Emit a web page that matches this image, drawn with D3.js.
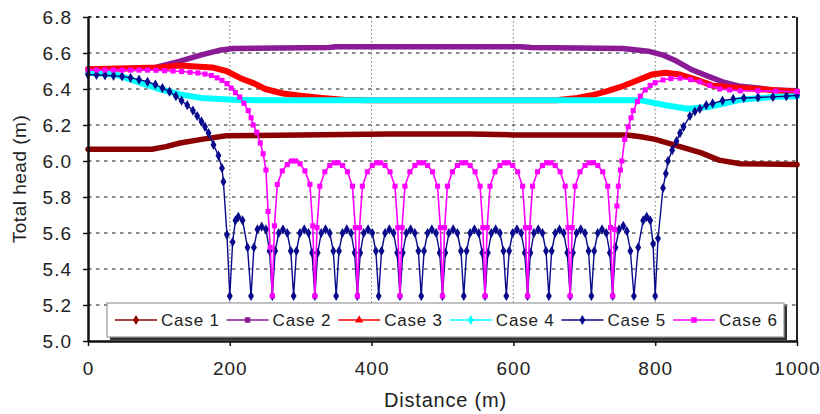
<!DOCTYPE html>
<html>
<head>
<meta charset="utf-8">
<script src="https://cdn.jsdelivr.net/npm/d3@7"></script>
<style>
  html, body { margin: 0; padding: 0; background: #fff; }
  svg text { font-family: "Liberation Sans", Arial, sans-serif; fill: #222; }
</style>
</head>
<body>
<div id="chart"></div>
<script>
// values: [distance (m), total head (m)]
const seriesNames = ["Case 1", "Case 2", "Case 3", "Case 4", "Case 5", "Case 6"];
const xTicks = [0, 200, 400, 600, 800, 1000];
const yTicks = [5.0, 5.2, 5.4, 5.6, 5.8, 6.0, 6.2, 6.4, 6.6, 6.8];

const case1 = [[0,6.065],[90,6.065],[110,6.08],[130,6.10],[160,6.12],[195,6.14],[300,6.145],[425,6.15],
  [540,6.15],[600,6.145],[760,6.145],[780,6.135],[800,6.12],[835,6.08],[865,6.045],[890,6.005],[920,5.985],[1000,5.98]];

const case2 = [[0,6.51],[90,6.515],[105,6.53],[130,6.555],[160,6.59],[185,6.615],[205,6.625],[340,6.63],[350,6.635],
  [610,6.635],[625,6.63],[755,6.625],[790,6.61],[810,6.59],[830,6.555],[850,6.51],[875,6.47],[895,6.44],[920,6.415],
  [945,6.405],[965,6.395],[1000,6.39]];

const case3 = [[0,6.51],[100,6.52],[130,6.53],[175,6.52],[195,6.50],[215,6.46],[235,6.43],[250,6.40],[275,6.375],
  [300,6.362],[330,6.35],[360,6.34],[400,6.337],[600,6.337],[660,6.338],[690,6.35],[710,6.365],[730,6.385],[750,6.41],
  [770,6.44],[795,6.48],[815,6.49],[835,6.48],[860,6.45],[880,6.42],[905,6.41],[945,6.40],[1000,6.385]];

const case4 = [[0,6.49],[40,6.48],[70,6.44],[100,6.40],[130,6.37],[160,6.35],[205,6.34],[250,6.337],[780,6.337],
  [815,6.31],[845,6.29],[875,6.30],[920,6.34],[965,6.355],[1000,6.36]];

const case5 = [
  [0,6.48],[12,6.478],[24,6.476],[36,6.473],[48,6.47],[60,6.462],[72,6.452],[84,6.44],[95,6.425],[105,6.405],
  [115,6.385],[124,6.36],[132,6.335],[140,6.31],[148,6.28],[154,6.25],[160,6.22],[165,6.19],[170,6.155],[177,6.09],
  [184,6.03],[189,5.96],[191,5.885],[196,5.59],
  [200,5.25],[204,5.55],[208,5.67],[212,5.69],[218,5.67],[225,5.52],
  [230,5.25],[234,5.52],[239,5.62],[245,5.635],[251,5.62],[256,5.50],
  [260,5.25],[264,5.50],[269,5.60],[275,5.62],[281,5.60],[286,5.50],
  [290,5.25],[294,5.50],[299,5.60],[305,5.62],[311,5.60],[316,5.49],
  [320,5.25],[324,5.49],[329,5.60],[335,5.62],[341,5.60],[346,5.50],
  [350,5.25],[354,5.50],[359,5.60],[365,5.62],[371,5.60],[376,5.49],
  [380,5.25],[384,5.49],[389,5.60],[395,5.62],[401,5.60],[406,5.50],
  [410,5.25],[414,5.50],[419,5.60],[425,5.62],[431,5.60],[436,5.49],
  [440,5.25],[444,5.49],[449,5.60],[455,5.62],[461,5.60],[466,5.50],
  [470,5.25],[474,5.50],[479,5.60],[485,5.62],[491,5.60],[496,5.49],
  [500,5.25],[504,5.49],[509,5.60],[515,5.62],[521,5.60],[526,5.50],
  [530,5.25],[534,5.50],[539,5.60],[545,5.62],[551,5.60],[556,5.49],
  [560,5.25],[564,5.49],[569,5.60],[575,5.62],[581,5.60],[586,5.50],
  [590,5.25],[594,5.50],[599,5.60],[605,5.62],[611,5.60],[616,5.49],
  [620,5.25],[624,5.49],[629,5.60],[635,5.62],[641,5.60],[646,5.50],
  [650,5.25],[654,5.50],[659,5.60],[665,5.62],[671,5.60],[676,5.49],
  [680,5.25],[684,5.49],[689,5.60],[695,5.62],[701,5.60],[706,5.50],
  [710,5.25],[714,5.50],[719,5.60],[725,5.62],[731,5.60],[736,5.49],
  [740,5.25],[744,5.52],[749,5.62],[755,5.64],[760,5.61],[765,5.50],
  [770,5.25],[776,5.52],[783,5.67],[788,5.69],[793,5.67],[797,5.54],
  [800,5.25],
  [804,5.57],[811,5.85],[815,5.93],[818,6.00],[824,6.06],[830,6.11],[835,6.155],[840,6.19],[849,6.25],[856,6.275],
  [863,6.29],[872,6.31],[881,6.32],[895,6.335],[910,6.345],[925,6.35],[945,6.353],[966,6.356],[985,6.36],[1000,6.365]];

const case6 = [
  [0,6.505],[12,6.505],[24,6.505],[36,6.505],[48,6.505],[60,6.505],[72,6.505],[84,6.505],[96,6.504],[108,6.502],
  [120,6.50],[132,6.497],[144,6.493],[155,6.489],[165,6.483],[174,6.475],[182,6.462],[189,6.448],[196,6.43],[202,6.405],
  [208,6.38],[214,6.355],[220,6.32],[226,6.28],[230,6.24],[233,6.20],[238,6.16],[243,6.10],[247,6.04],[251,5.95],
  [254,5.72],[257,5.52],
  [260,5.25],[263,5.64],[267,5.87],[274,5.945],[281,5.98],[287,6.00],[293,6.00],[299,5.985],[306,5.945],[313,5.87],[317,5.64],
  [320,5.25],[323,5.63],[327,5.86],[334,5.94],[341,5.975],[347,5.99],[353,5.99],[359,5.975],[366,5.94],[373,5.86],[377,5.63],
  [380,5.25],[383,5.63],[387,5.86],[394,5.94],[401,5.975],[407,5.99],[413,5.99],[419,5.975],[426,5.94],[433,5.86],[437,5.63],
  [440,5.25],[443,5.63],[447,5.86],[454,5.94],[461,5.975],[467,5.99],[473,5.99],[479,5.975],[486,5.94],[493,5.86],[497,5.63],
  [500,5.25],[503,5.63],[507,5.86],[514,5.94],[521,5.975],[527,5.99],[533,5.99],[539,5.975],[546,5.94],[553,5.86],[557,5.63],
  [560,5.25],[563,5.63],[567,5.86],[574,5.94],[581,5.975],[587,5.99],[593,5.99],[599,5.975],[606,5.94],[613,5.86],[617,5.63],
  [620,5.25],[623,5.63],[627,5.86],[634,5.94],[641,5.975],[647,5.99],[653,5.99],[659,5.975],[666,5.94],[673,5.86],[677,5.63],
  [680,5.25],[683,5.63],[687,5.86],[694,5.94],[701,5.975],[707,5.99],[713,5.99],[719,5.975],[726,5.94],[733,5.86],[737,5.63],
  [740,5.25],
  [743,5.62],[746,5.75],[748,5.86],[751,5.95],[753,6.00],[757,6.12],[762,6.19],[766,6.24],[769,6.28],[775,6.33],
  [779,6.36],[786,6.395],[793,6.42],[800,6.435],[811,6.45],[822,6.458],[835,6.46],[850,6.452],[863,6.44],[877,6.42],
  [891,6.40],[905,6.395],[920,6.39],[945,6.39],[970,6.388],[1000,6.385]];

(function () {
  const width = 820, height = 414;
  const left = 88, right = 797, top = 17, bottom = 341;

  const svg = d3.select("#chart").append("svg")
    .attr("width", width)
    .attr("height", height);

  const x = d3.scaleLinear().domain([0, 1000]).range([left, right]);
  const y = d3.scaleLinear().domain([5.0, 6.8]).range([bottom, top]);

  const series = [case1, case2, case3, case4, case5, case6];
  const styles = [
    { color: "#8b0000", band: 5.5, symbol: d3.symbolDiamond, dots: false },
    { color: "#8a1a96", band: 5.5, symbol: d3.symbolSquare, dots: false },
    { color: "#ff0000", band: 6, symbol: d3.symbolTriangle, dots: false },
    { color: "#00ffff", band: 6, symbol: d3.symbolDiamond, dots: false },
    { color: "#0a0a8c", band: 1.4, symbol: d3.symbolDiamond, dots: true },
    { color: "#ff00ff", band: 1.6, symbol: d3.symbolSquare, dots: true }
  ];

  // grid
  svg.append("g").selectAll("line")
    .data(xTicks.slice(1, -1))
    .join("line")
    .attr("x1", d => x(d)).attr("x2", d => x(d))
    .attr("y1", top).attr("y2", bottom)
    .attr("stroke", "#777").attr("stroke-width", 1)
    .attr("stroke-dasharray", "1.5,2.5");

  svg.append("g").selectAll("line")
    .data(yTicks.slice(1))
    .join("line")
    .attr("x1", left).attr("x2", right)
    .attr("y1", d => y(d)).attr("y2", d => y(d))
    .attr("stroke", d => d === 6.8 ? "#333" : "#666")
    .attr("stroke-width", d => d === 6.8 ? 2 : 1.6)
    .attr("stroke-dasharray", "3.5,4.5");

  // right border
  svg.append("line")
    .attr("x1", right).attr("x2", right)
    .attr("y1", top).attr("y2", bottom)
    .attr("stroke", "#222").attr("stroke-width", 2);

  // series
  const line = d3.line().x(d => x(d[0])).y(d => y(d[1]));
  series.forEach((data, i) => {
    const s = styles[i];
    const g = svg.append("g");
    g.append("path")
      .datum(data)
      .attr("d", line)
      .attr("fill", "none")
      .attr("stroke", s.color)
      .attr("stroke-width", s.band)
      .attr("stroke-linejoin", "round")
      .attr("stroke-linecap", "round");
    if (s.dots) {
      g.selectAll("path.pt")
        .data(data)
        .join("path")
        .attr("class", "pt")
        .attr("transform", d => `translate(${x(d[0])},${y(d[1])})`)
        .attr("d", d3.symbol().type(s.symbol).size(i === 4 ? 30 : 26))
        .attr("fill", s.color);
    }
  });

  // axes
  const yAxis = svg.append("g")
    .attr("transform", `translate(${left},0)`)
    .call(d3.axisLeft(y).tickValues(yTicks).tickFormat(d3.format(".1f"))
      .tickSize(5).tickPadding(11).tickSizeOuter(0));
  const xAxis = svg.append("g")
    .attr("transform", `translate(0,${bottom})`)
    .call(d3.axisBottom(x).tickValues(xTicks).tickFormat(d3.format("d"))
      .tickSize(5).tickPadding(16).tickSizeOuter(0));

  [yAxis, xAxis].forEach(a => {
    a.select(".domain").attr("stroke", "#111").attr("stroke-width", 2.5);
    a.selectAll(".tick line").attr("stroke", "#111").attr("stroke-width", 1.5);
    a.selectAll(".tick text")
      .attr("font-size", 19)
      .attr("letter-spacing", 1)
      .style("fill", "#222");
  });

  // legend
  const lg = svg.append("g").attr("transform", "translate(107,303)");
  lg.append("rect").attr("x", 3).attr("y", 3).attr("width", 677).attr("height", 34).attr("fill", "#333");
  lg.append("rect").attr("width", 677).attr("height", 34)
    .attr("fill", "#fff").attr("stroke", "#999").attr("stroke-width", 1.2);

  seriesNames.forEach((name, i) => {
    const s = styles[i];
    const it = lg.append("g").attr("transform", `translate(${8 + i * 111.6},17)`);
    it.append("line").attr("x1", 0).attr("x2", 42)
      .attr("stroke", s.color).attr("stroke-width", 1.3);
    it.append("path")
      .attr("transform", "translate(21,0)")
      .attr("d", d3.symbol().type(s.symbol).size(30))
      .attr("fill", s.color);
    it.append("text")
      .attr("x", 46).attr("dy", "0.36em")
      .attr("font-size", 17).attr("letter-spacing", 0.8)
      .text(name);
  });

  // axis titles
  svg.append("text")
    .attr("x", (left + right) / 2 + 3).attr("y", 407)
    .attr("text-anchor", "middle")
    .attr("font-size", 20).attr("letter-spacing", 0.8)
    .text("Distance (m)");

  svg.append("text")
    .attr("transform", `translate(26,${(top + bottom) / 2}) rotate(-90)`)
    .attr("text-anchor", "middle")
    .attr("font-size", 19).attr("letter-spacing", 0.5)
    .text("Total head (m)");
})();
</script>
</body>
</html>
